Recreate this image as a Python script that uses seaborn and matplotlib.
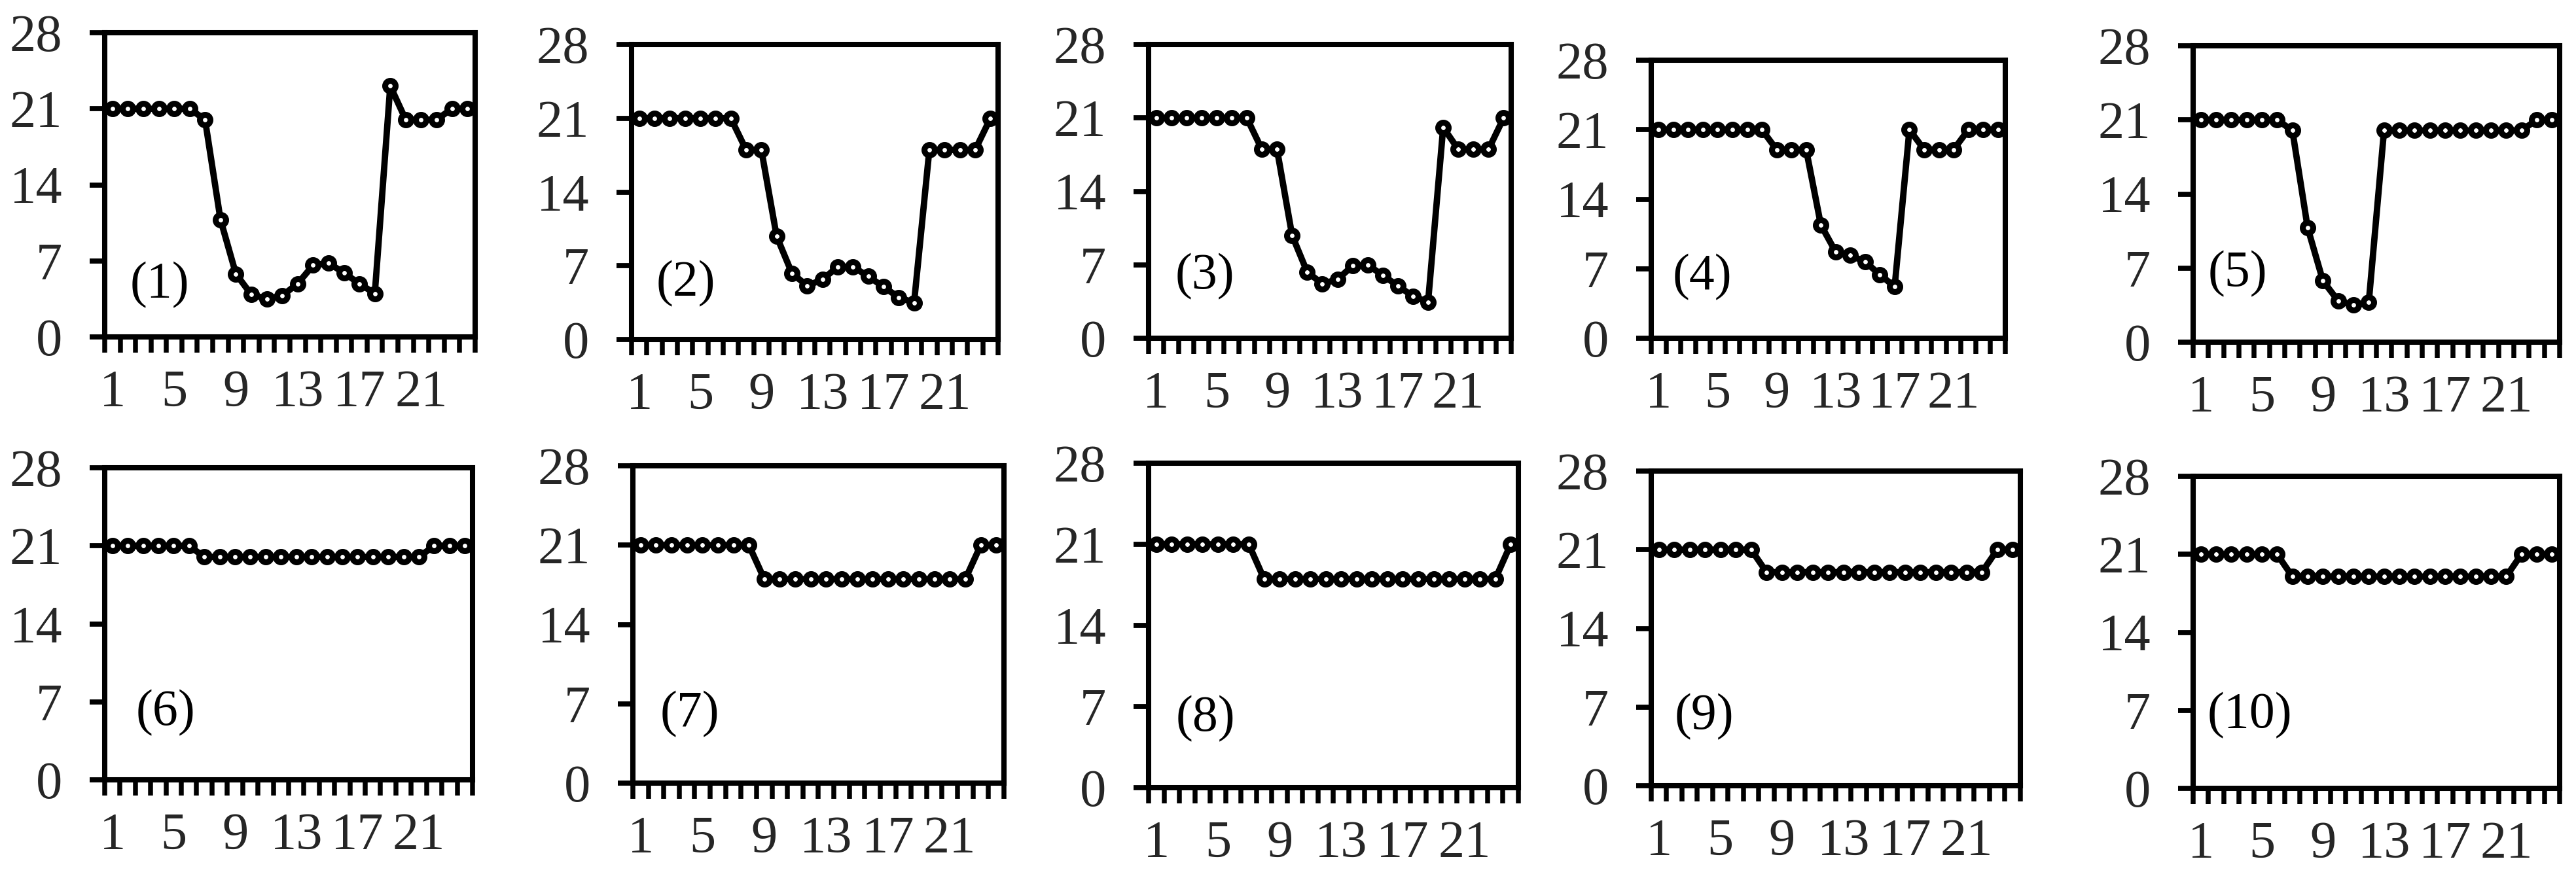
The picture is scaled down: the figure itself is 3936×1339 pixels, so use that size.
import matplotlib
matplotlib.use('Agg')
import matplotlib.pyplot as plt
from matplotlib.ticker import FixedLocator, NullFormatter
import numpy as np
import pandas as pd
import seaborn as sns

# hour index shared by every panel
hours = list(range(1, 25))
xtick_labels = [1, 5, 9, 13, 17, 21]
yticks = [0, 7, 14, 21, 28]
panel_names = ['(1)', '(2)', '(3)', '(4)', '(5)', '(6)', '(7)', '(8)', '(9)', '(10)']

s1 = [21, 21, 21, 21, 21, 21, 20, 10.8, 5.8, 3.9, 3.5, 3.8, 4.9, 6.6, 6.8, 5.9, 4.9, 4.0, 23.1, 20, 20, 20, 21, 21]
s2 = [21, 21, 21, 21, 21, 21, 21, 18, 18, 9.8, 6.3, 5.1, 5.7, 6.9, 6.9, 6.0, 5.0, 4.0, 3.5, 18, 18, 18, 18, 21]
s3 = [21, 21, 21, 21, 21, 21, 21, 18, 18, 9.8, 6.3, 5.2, 5.6, 6.9, 7.0, 6.0, 5.0, 4.0, 3.45, 20.1, 18, 18, 18, 21]
s4 = [21, 21, 21, 21, 21, 21, 21, 21, 19, 19, 19, 11.4, 8.7, 8.35, 7.7, 6.4, 5.2, 21, 19, 19, 19, 21, 21, 21]
s5 = [21, 21, 21, 21, 21, 21, 20, 10.8, 5.8, 3.9, 3.5, 3.75, 20, 20, 20, 20, 20, 20, 20, 20, 20, 20, 21, 21]
s6 = [21, 21, 21, 21, 21, 21, 20, 20, 20, 20, 20, 20, 20, 20, 20, 20, 20, 20, 20, 20, 20, 21, 21, 21]
s7 = [21, 21, 21, 21, 21, 21, 21, 21, 18, 18, 18, 18, 18, 18, 18, 18, 18, 18, 18, 18, 18, 18, 21, 21]
s8 = [21, 21, 21, 21, 21, 21, 21, 18, 18, 18, 18, 18, 18, 18, 18, 18, 18, 18, 18, 18, 18, 18, 18, 21]
s9 = [21, 21, 21, 21, 21, 21, 21, 19, 19, 19, 19, 19, 19, 19, 19, 19, 19, 19, 19, 19, 19, 19, 21, 21]
s10 = [21, 21, 21, 21, 21, 21, 19, 19, 19, 19, 19, 19, 19, 19, 19, 19, 19, 19, 19, 19, 19, 21, 21, 21]
series = [s1, s2, s3, s4, s5, s6, s7, s8, s9, s10]

# plot boxes in pixels: left, right, top (y=28), bottom (y=0)
W, H = 3937, 1339
boxes = [
    (160, 726, 50, 515), (965, 1525, 68, 519), (1755, 2309, 68, 517),
    (2523, 3064, 92, 517), (3351, 3911, 70, 523),
    (160, 722, 715, 1192), (967, 1534, 712, 1197), (1755, 2320, 708, 1204),
    (2523, 3087, 720, 1201), (3351, 3911, 728, 1205),
]
label_pos = [(0.069, 0.17), (0.068, 0.19), (0.074, 0.21), (0.061, 0.22), (0.041, 0.23),
             (0.084, 0.215), (0.074, 0.218), (0.073, 0.213), (0.064, 0.22), (0.038, 0.234)]

sns.set_style('white')
plt.rcParams['font.family'] = ['Liberation Serif', 'DejaVu Serif']

fig = plt.figure(figsize=(W / 100, H / 100), dpi=100)

for i, vals in enumerate(series):
    L, R, T, B = boxes[i]
    ax = fig.add_axes([L / W, 1 - B / H, (R - L) / W, (B - T) / H])
    df = pd.DataFrame({'hour': hours, 'value': vals})
    sns.lineplot(data=df, x='hour', y='value', ax=ax, color='black',
                 linewidth=7.0, marker='o', markersize=11.5,
                 markerfacecolor='white', markeredgecolor='black',
                 markeredgewidth=6.5, errorbar=None, clip_on=False)

    ax.set_xlim(0.5, 24.5)
    ax.set_ylim(0, 28)
    ax.set_xlabel('')
    ax.set_ylabel('')

    ax.set_yticks(yticks)
    ax.set_yticklabels([str(v) for v in yticks])
    ax.set_xticks(xtick_labels)
    ax.set_xticklabels([str(v) for v in xtick_labels])
    ax.xaxis.set_minor_locator(FixedLocator(np.arange(0.5, 25, 1.0)))
    ax.xaxis.set_minor_formatter(NullFormatter())

    ax.tick_params(axis='y', which='major', direction='out', length=16.5, width=5.6,
                   labelsize=58, pad=30, left=True, right=False, color='black')
    ax.tick_params(axis='x', which='major', length=0, labelsize=58, pad=36, bottom=True)
    ax.tick_params(axis='x', which='minor', direction='out', length=17, width=5.4,
                   bottom=True, top=False, color='black')

    for sp in ax.spines.values():
        sp.set_visible(True)
        sp.set_linewidth(5.8)
        sp.set_color('black')

    lx, ly = label_pos[i]
    ax.text(lx, ly, panel_names[i], transform=ax.transAxes, fontsize=56,
            ha='left', va='center', color='black')

fig.savefig('out.png', dpi=100, facecolor='white')
